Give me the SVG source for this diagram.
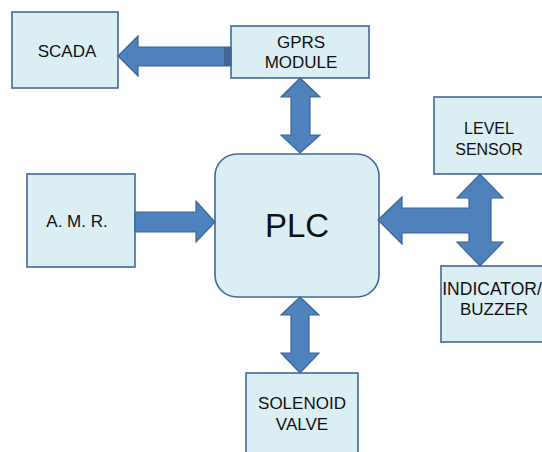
<svg xmlns="http://www.w3.org/2000/svg" width="542" height="452" viewBox="0 0 542 452">
<style>
.box{fill:#DBEEF4;stroke:#41699B;stroke-width:1.6}
.t{font-family:"Liberation Sans",Arial,sans-serif;font-size:17px;fill:#111;text-anchor:middle}
.s{font-size:16px}
.arr{fill:#4F81BD;stroke:#3B6696;stroke-width:1.2;stroke-linejoin:miter}
</style>
<rect width="542" height="452" fill="#FFFFFF"/>
<g id="scada">
<rect class="box" x="12" y="12" width="106" height="76"/>
<text class="t" x="67" y="57">SCADA</text>
</g>
<g id="gprs">
<rect class="box" x="231" y="26" width="138" height="52"/>
<text class="t" x="301" y="48">GPRS</text>
<text class="t" x="301" y="68">MODULE</text>
</g>
<g id="amr">
<rect class="box" x="27" y="174" width="108" height="93"/>
<text class="t" x="77" y="227">A. M. R.</text>
</g>
<g id="plc">
<rect class="box" x="215" y="154" width="164" height="143" rx="22" ry="22"/>
<text class="t" x="297" y="237" style="font-size:33px">PLC</text>
</g>
<g id="level">
<rect class="box" x="434" y="97" width="112" height="77"/>
<text class="t s" x="489" y="134">LEVEL</text>
<text class="t s" x="489" y="155">SENSOR</text>
</g>
<g id="indicator">
<rect class="box" x="441" y="266" width="110" height="76"/>
<text class="t" x="492" y="295" style="font-size:17.5px">INDICATOR/</text>
<text class="t" x="494" y="315">BUZZER</text>
</g>
<g id="solenoid">
<rect class="box" x="246" y="373" width="112" height="90"/>
<text class="t" x="302" y="409">SOLENOID</text>
<text class="t" x="302" y="430">VALVE</text>
</g>
<g id="connectors">
<polygon class="arr" points="118,56 138,36 138,47 231,47 231,66 138,66 138,76"/>
<rect x="224" y="47" width="7" height="19" fill="#41679A"/>
<polygon class="arr" points="300,78 320,97 310,97 310,135 320,135 300,153 281,135 291,135 291,97 281,97"/>
<polygon class="arr" points="135,212 196,212 196,201 215,222 196,242 196,232 135,232"/>
<polygon class="arr" points="378,220 402,197 402,208 469,208 469,198 457,198 480,174 503,198 491,198 491,242 503,242 480,266 457,242 469,242 469,233 402,233 402,244"/>
<polygon class="arr" points="300,297 319,315 309,315 309,353 319,353 300,373 281,353 291,353 291,315 281,315"/>
</g>
</svg>
